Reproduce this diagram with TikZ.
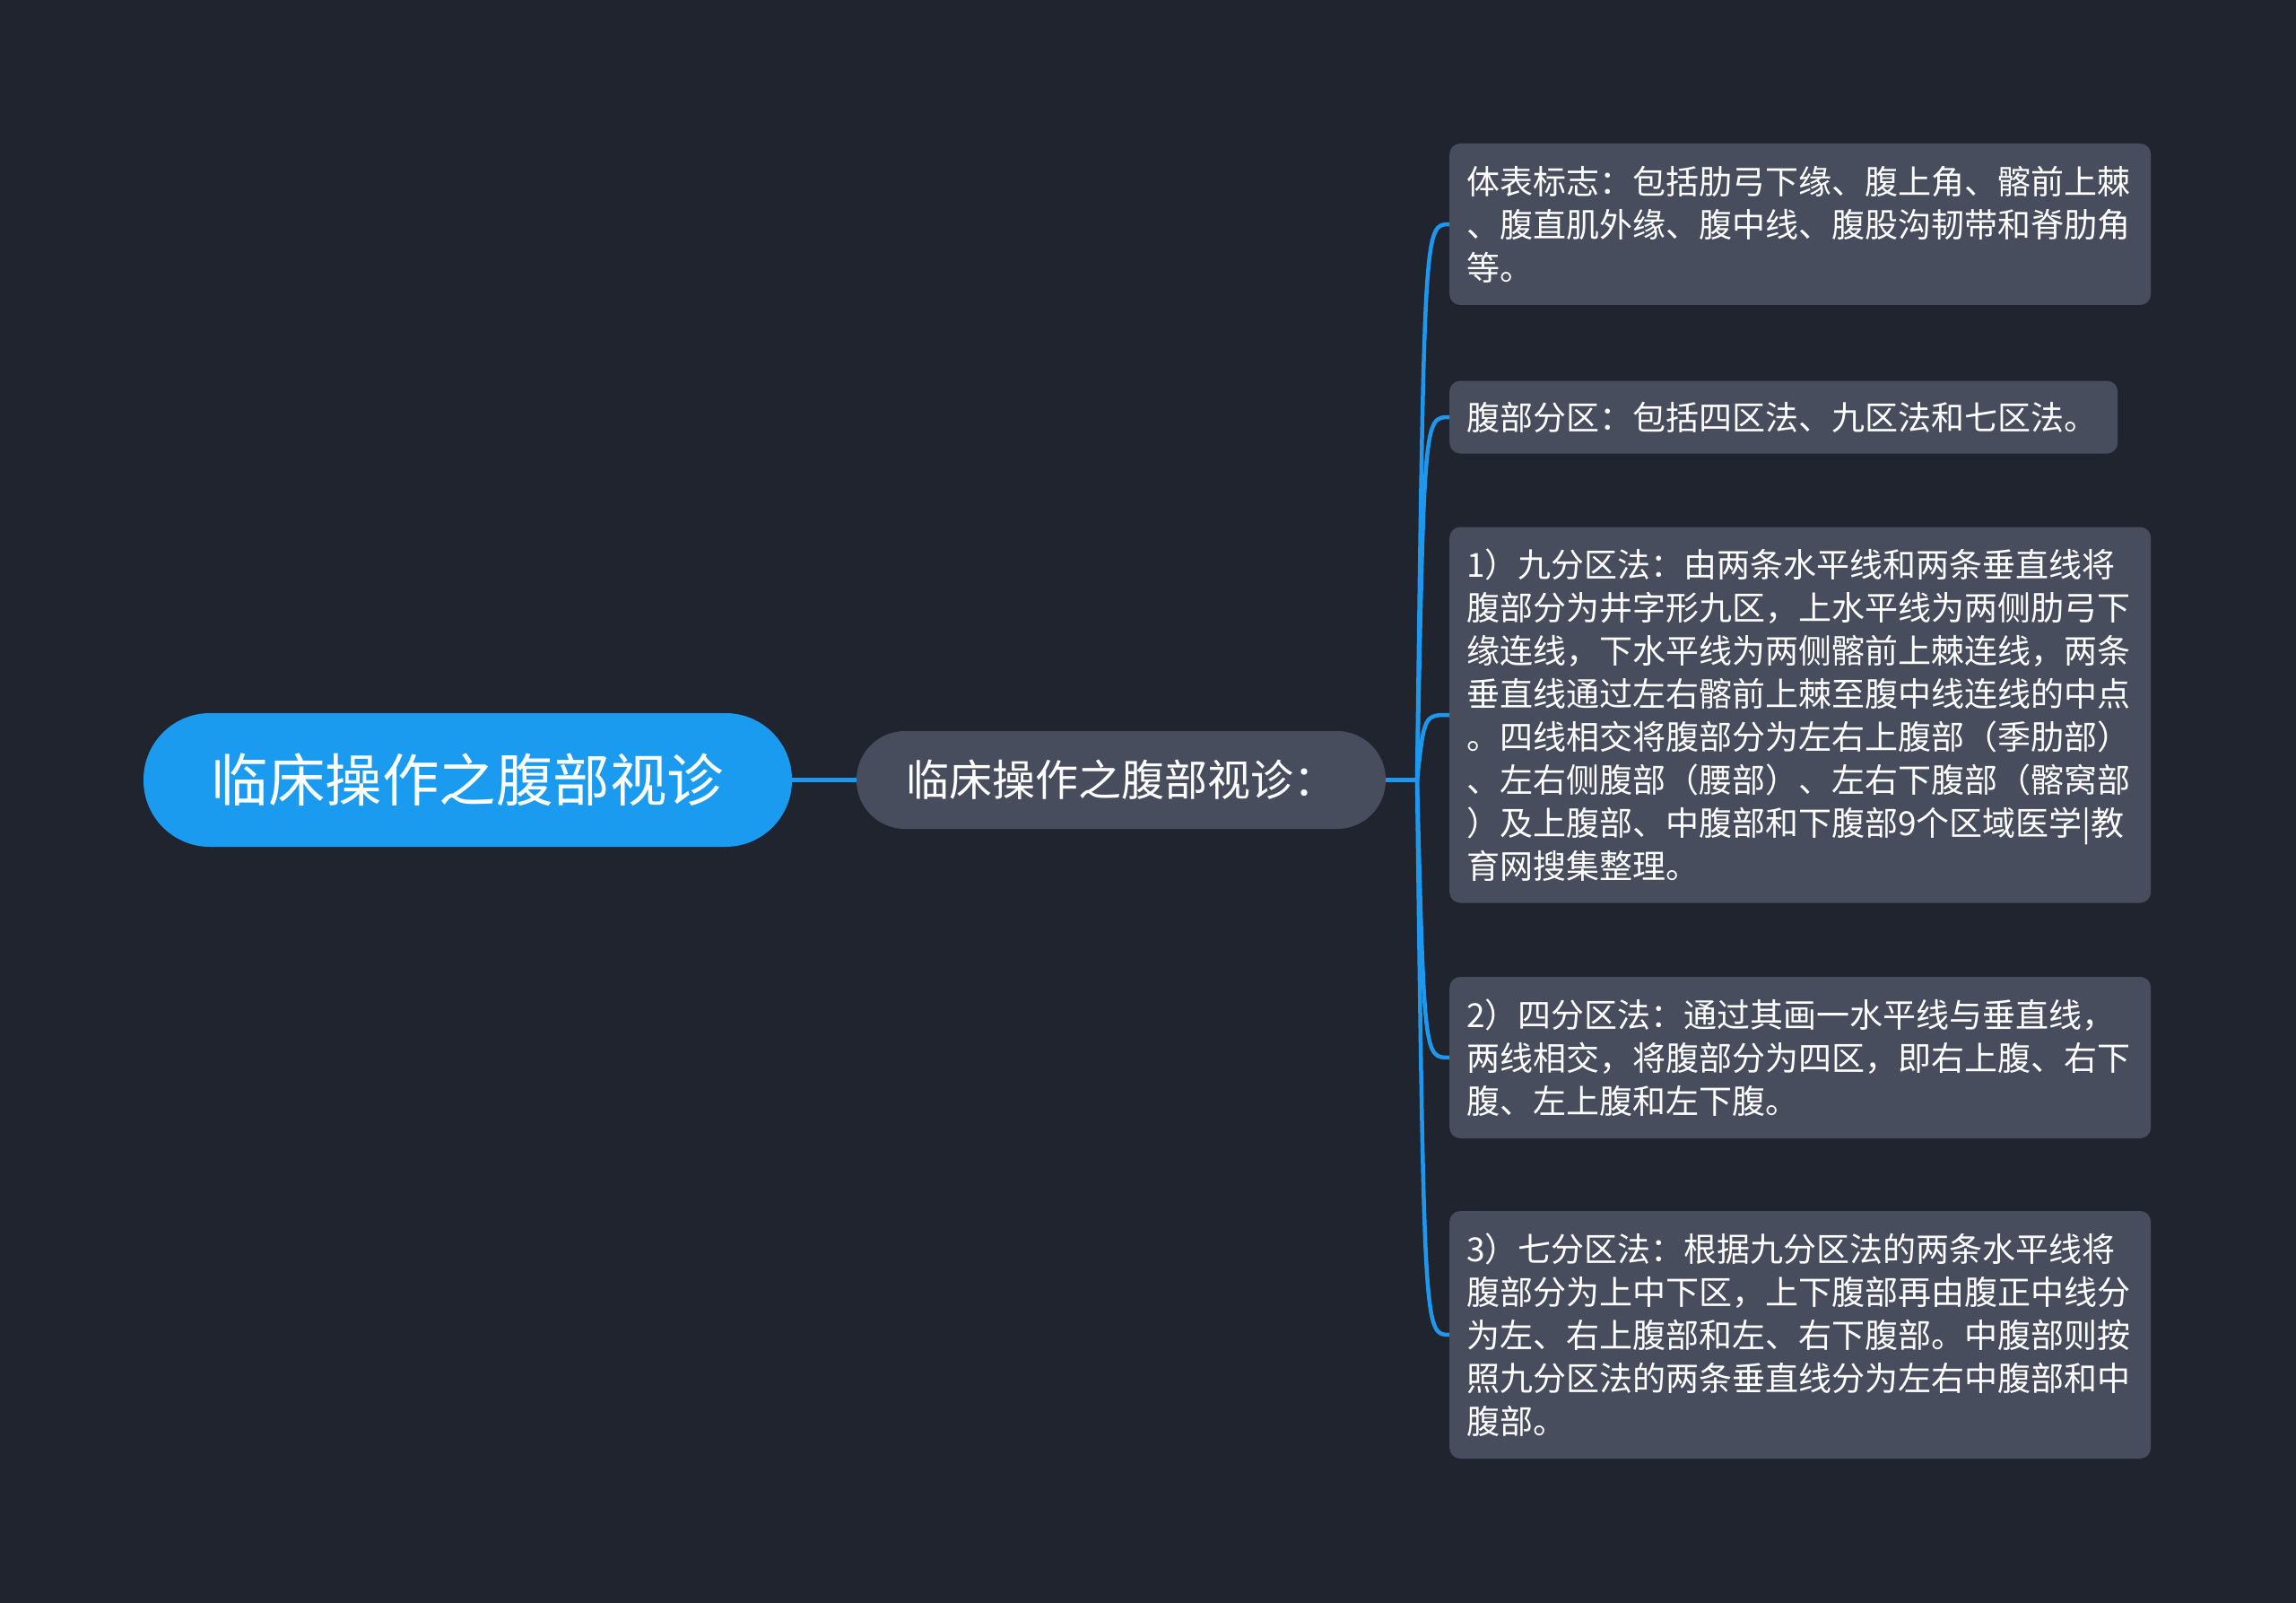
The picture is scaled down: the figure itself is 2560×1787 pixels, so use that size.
\documentclass[tikz,border=0pt]{standalone}
\usepackage{fontspec}
\newfontfamily\cjk{Noto Sans CJK SC}
\definecolor{bgc}{HTML}{20242F}
\definecolor{boxc}{HTML}{474D5C}
\definecolor{rootc}{HTML}{1A9BF0}
\definecolor{linec}{HTML}{1E98EE}
\tikzset{
  leaf/.style={fill=boxc, rounded corners=12pt, text=white,
    font=\cjk\fontsize{37}{48}\selectfont, align=left,
    inner xsep=19pt, inner ysep=0pt, anchor=west},
  link/.style={draw=linec, line width=4.5pt},
}
\begin{document}
\begin{tikzpicture}[x=1pt,y=-1pt]
\fill[bgc] (0,0) rectangle (2560,1787);
\useasboundingbox (0,0) rectangle (2560,1787);

\node[fill=rootc, rounded corners=74pt, minimum width=723pt, minimum height=149pt,
  text=white, font=\cjk\fontsize{63.5}{76}\selectfont, inner sep=0pt]
  (root) at (521.5,869.5) {临床操作之腹部视诊};

\node[fill=boxc, rounded corners=54pt, minimum width=590pt, minimum height=109pt,
  text=white, font=\cjk\fontsize{48}{58}\selectfont, inner sep=0pt]
  (mid) at (1250,869.5) {临床操作之腹部视诊：};

\node[leaf, text width=744pt, minimum height=180pt] (b1) at (1616,250)
  {体表标志：包括肋弓下缘、腹上角、髂前上棘\\、腹直肌外缘、腹中线、腹股沟韧带和脊肋角\\等。};
\node[leaf, text width=707pt, minimum height=81pt] (b2) at (1616,465)
  {腹部分区：包括四区法、九区法和七区法。};
\node[leaf, text width=744pt, minimum height=419pt] (b3) at (1616,797)
  {1）九分区法：由两条水平线和两条垂直线将\\腹部分为井字形九区，上水平线为两侧肋弓下\\缘连线，下水平线为两侧髂前上棘连线，两条\\垂直线通过左右髂前上棘至腹中线连线的中点\\。四线相交将腹部分为左右上腹部（季肋部）\\、左右侧腹部（腰部）、左右下腹部（髂窝部\\）及上腹部、中腹部和下腹部9个区域医学|教\\育网搜集整理。};
\node[leaf, text width=744pt, minimum height=180pt] (b4) at (1616,1179)
  {2）四分区法：通过其画一水平线与垂直线，\\两线相交，将腹部分为四区，即右上腹、右下\\腹、左上腹和左下腹。};
\node[leaf, text width=744pt, minimum height=276pt] (b5) at (1616,1488)
  {3）七分区法：根据九分区法的两条水平线将\\腹部分为上中下区，上下腹部再由腹正中线分\\为左、右上腹部和左、右下腹部。中腹部则按\\照九分区法的两条垂直线分为左右中腹部和中\\腹部。};

\coordinate (trunk) at (1580,869.5);
\draw[link, line width=5pt] (root.east) -- (mid.west);
\draw[link, line width=5pt] (mid.east) -- (trunk);
\foreach \b/\y in {b1/250, b2/465, b3/797, b4/1179, b5/1488}{
  \draw[link] (trunk) .. controls (1588,\y) .. (\b.west);
}
\end{tikzpicture}
\end{document}
